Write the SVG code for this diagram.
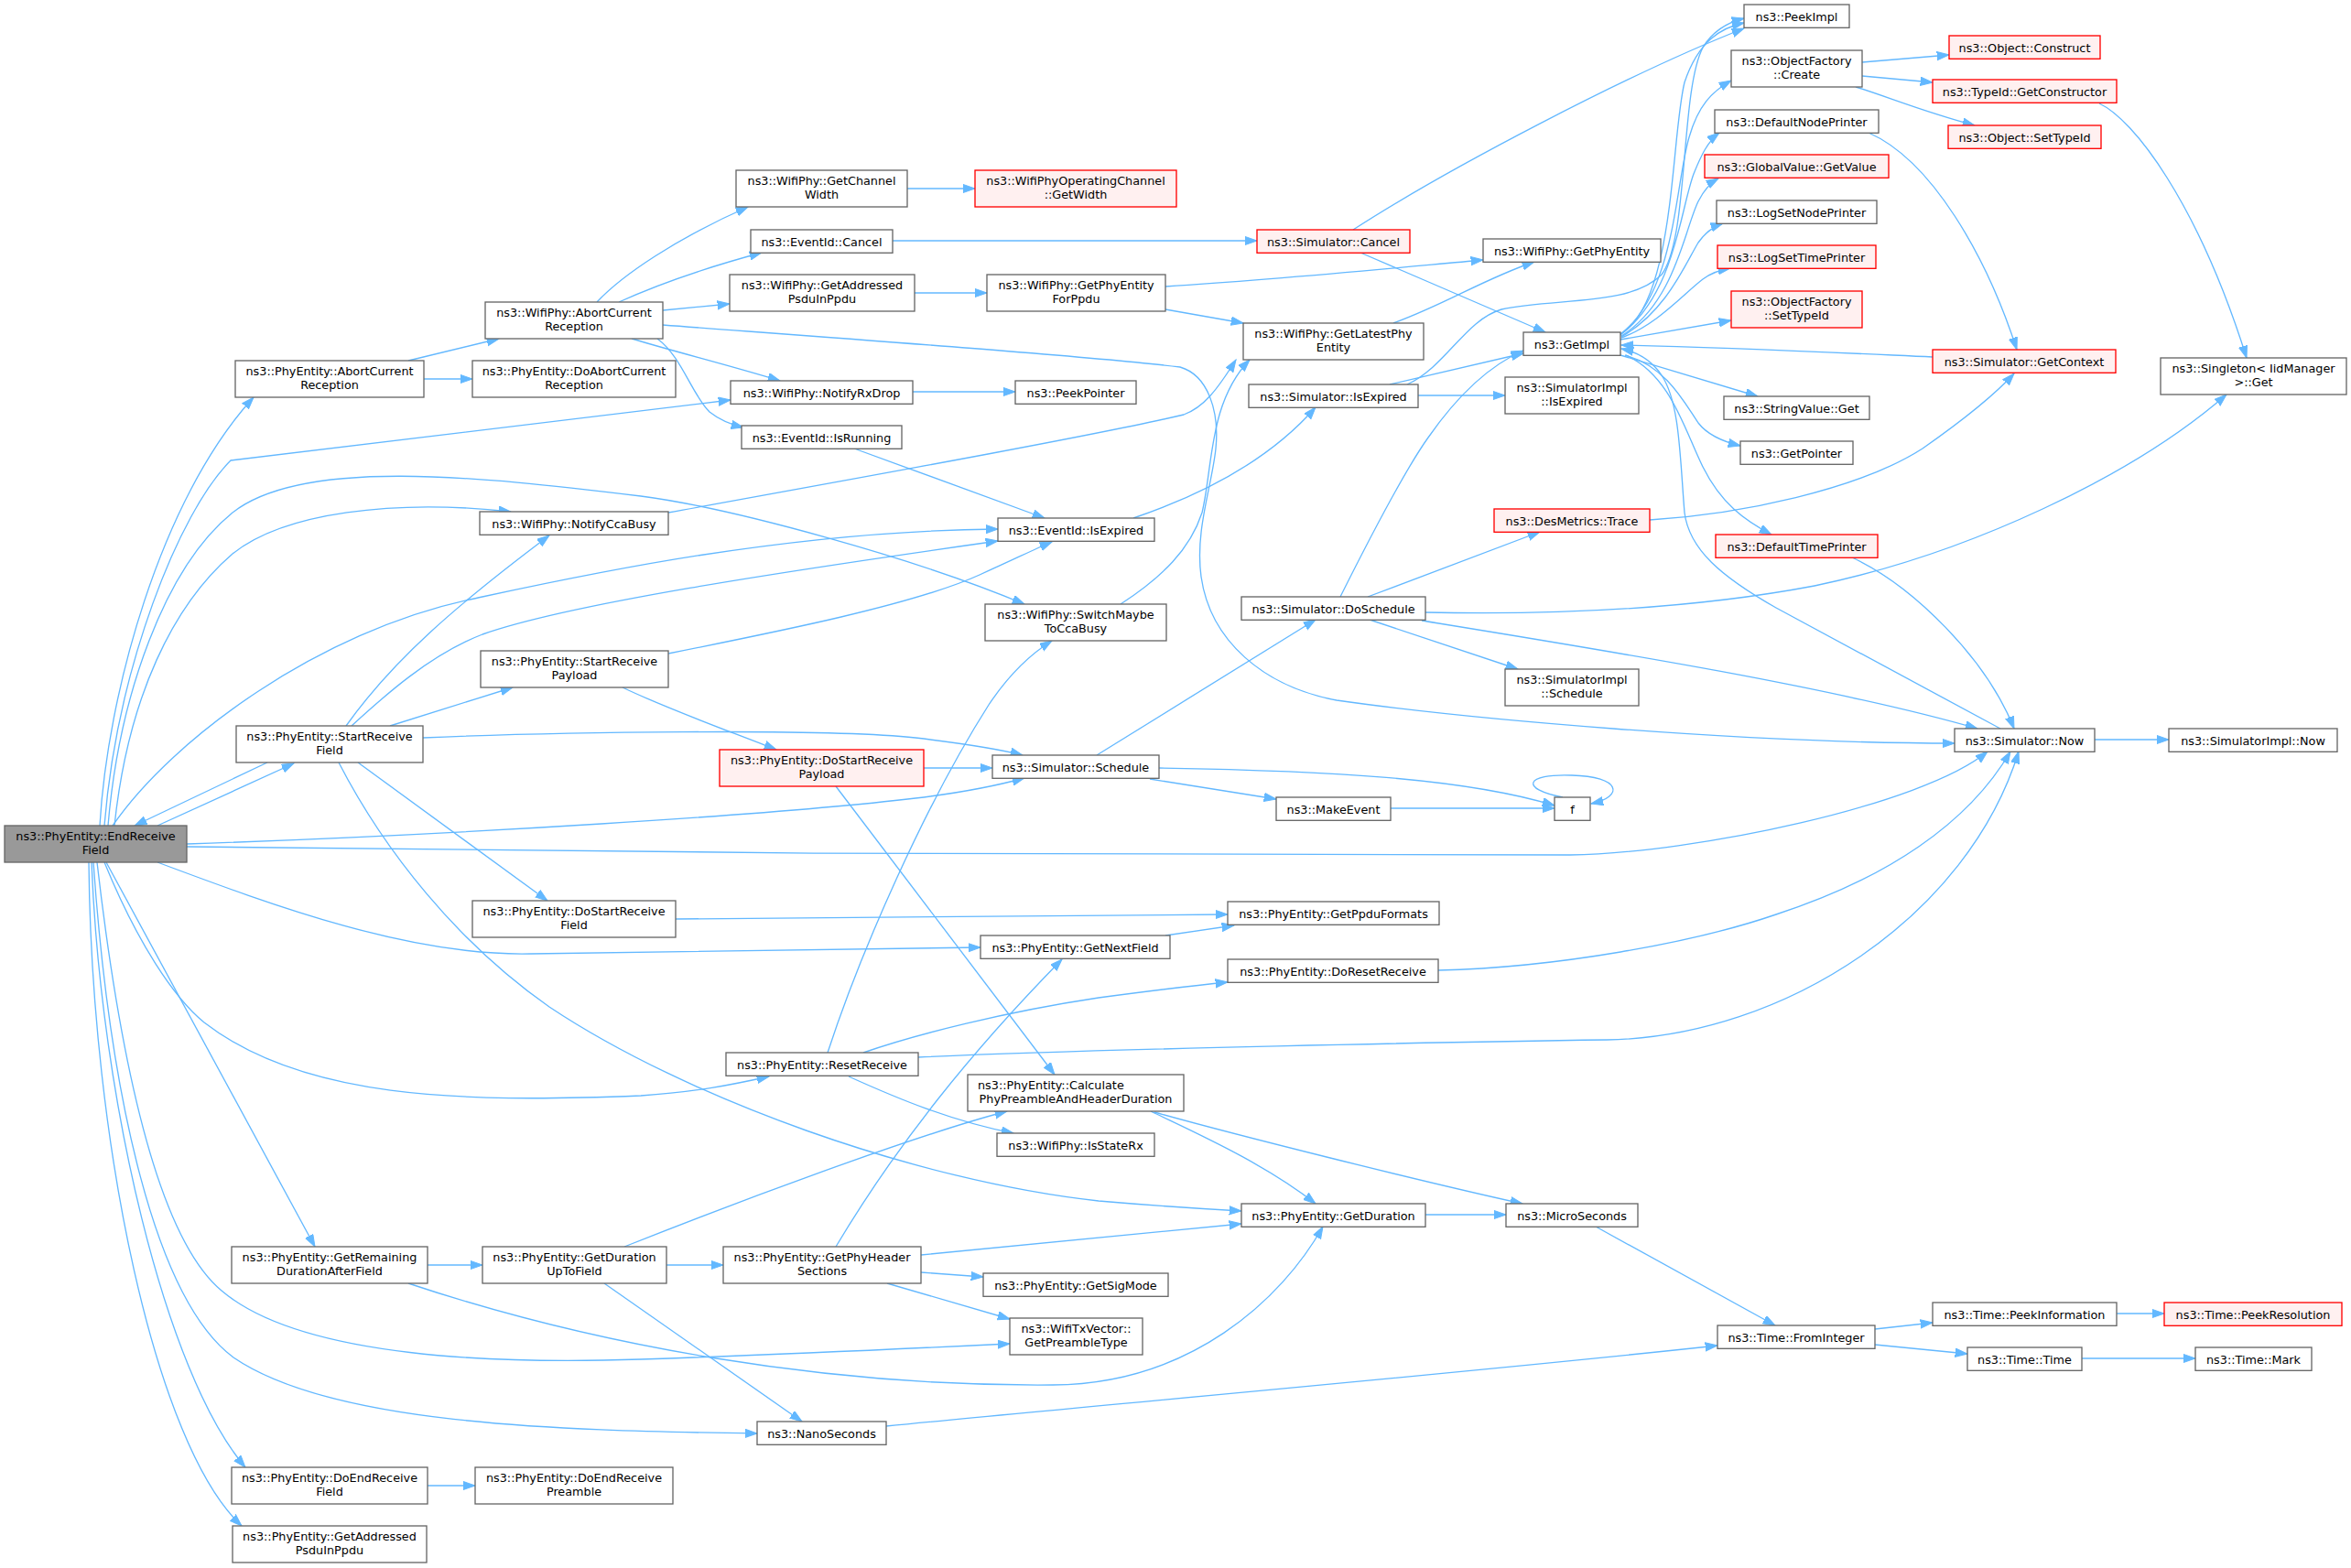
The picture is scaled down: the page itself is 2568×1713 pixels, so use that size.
<svg xmlns="http://www.w3.org/2000/svg" width="2568" height="1713" viewBox="0 0 2568 1713">
<defs>
<style>
.n rect{fill:#ffffff;stroke:#666666;stroke-width:1.33}
.r rect{fill:#fff0f0;stroke:#ff0000;stroke-width:1.33}
.g rect{fill:#999999;stroke:#666666;stroke-width:1.33}
text{font-family:"DejaVu Sans",sans-serif;font-size:12.8px;fill:#000000;text-anchor:middle}
.e path{fill:none;stroke:#63b8ff;stroke-width:1.33;marker-end:url(#a)}
</style>
<marker id="a" markerUnits="userSpaceOnUse" markerWidth="15" markerHeight="11" refX="13.3" refY="5" orient="auto"><path d="M0,0.35L13.3,5L0,9.65z" fill="#63b8ff" stroke="#63b8ff" stroke-width="1"/></marker>
</defs>
<rect x="0" y="0" width="2568" height="1713" fill="#ffffff"/>
<g id="edges" class="e">
<path d="M109,902 C117,760 175,545 277,434"/>
<path d="M114,902 C128,730 195,560 252,503 L798,437"/>
<path d="M118,902 C130,760 180,620 254,560 C330,500 520,520 700,542 C800,555 1000,610 1119,660"/>
<path d="M125,902 C140,760 190,660 254,605 C310,560 430,545 558,559"/>
<path d="M123,902 C190,805 350,690 513,655 C620,632 850,580 1090,578"/>
<path d="M172,902 L321,834"/>
<path d="M292,833 L147,902"/>
<path d="M204,922 C500,912 850,890 1000,872 C1050,866 1090,858 1119,850"/>
<path d="M204,925 C600,932 1500,936 1715,934 C1850,932 2100,880 2171,821"/>
<path d="M172,942 C300,990 450,1045 580,1042 L1071,1035"/>
<path d="M114,942 C150,1030 190,1090 223,1117 C330,1200 500,1205 700,1197 C760,1193 800,1185 840,1176"/>
<path d="M116,942 L344,1362"/>
<path d="M106,942 C130,1150 170,1350 242,1410 C330,1485 550,1490 700,1485 C850,1480 1000,1473 1103,1468"/>
<path d="M102,942 C120,1200 170,1420 255,1483 C360,1555 600,1563 827,1566"/>
<path d="M100,942 C110,1200 180,1500 268,1603"/>
<path d="M97,942 C100,1250 170,1580 264,1667"/>
<path d="M446,394 L545,370"/>
<path d="M463,414 L516,414"/>
<path d="M378,793 C430,720 500,660 600,585"/>
<path d="M384,793 C420,760 470,715 527,693 C620,660 850,625 1090,591"/>
<path d="M426,793 L560,751"/>
<path d="M462,806 C600,800 900,795 1000,806 C1050,812 1090,818 1117,825"/>
<path d="M391,833 L598,984"/>
<path d="M370,833 C420,930 500,1030 600,1100 C750,1200 1000,1290 1200,1312 C1270,1318 1320,1321 1356,1323"/>
<path d="M467,1382 L527,1382"/>
<path d="M446,1402 C650,1470 900,1515 1150,1513 C1300,1512 1400,1420 1445,1340"/>
<path d="M467,1623 L519,1623"/>
<path d="M652,330 C680,300 740,260 817,226"/>
<path d="M676,330 C720,310 780,290 832,276"/>
<path d="M724,339 L797,332"/>
<path d="M724,355 C950,372 1200,390 1289,401 C1320,410 1332,450 1328,490 C1324,530 1305,580 1312,630 C1322,700 1380,750 1460,765 C1600,785 1900,812 2135,812"/>
<path d="M690,370 C740,385 800,400 852,416"/>
<path d="M718,370 C745,390 755,430 775,450 C785,458 795,463 812,467"/>
<path d="M730,560 C950,520 1200,475 1293,453 C1315,445 1330,425 1350,393"/>
<path d="M730,714 C850,690 1000,660 1070,628 C1110,610 1130,600 1149,592"/>
<path d="M680,751 C730,775 800,800 848,819"/>
<path d="M738,1004 C1000,1001 1200,999 1341,999"/>
<path d="M728,1382 L790,1382"/>
<path d="M660,1402 L876,1553"/>
<path d="M682,1362 C800,1315 1000,1240 1100,1214"/>
<path d="M991,206 L1065,206"/>
<path d="M975,263 L1373,263"/>
<path d="M999,320 L1078,320"/>
<path d="M997,428 L1109,428"/>
<path d="M933,490 L1141,566"/>
<path d="M1009,839 L1084,839"/>
<path d="M913,859 L1152,1174"/>
<path d="M904,1150 C940,1040 1010,880 1080,770 C1100,740 1125,715 1149,700"/>
<path d="M943,1150 C1000,1130 1100,1105 1200,1090 C1260,1082 1300,1077 1341,1073"/>
<path d="M1003,1155 C1200,1146 1600,1138 1755,1136 C1950,1133 2150,1000 2205,821"/>
<path d="M927,1176 C980,1200 1040,1225 1107,1238"/>
<path d="M913,1362 C980,1250 1060,1150 1160,1048"/>
<path d="M1006,1371 L1356,1337"/>
<path d="M1006,1390 L1074,1395"/>
<path d="M969,1402 L1103,1441"/>
<path d="M968,1558 C1200,1535 1600,1500 1876,1470"/>
<path d="M1273,313 C1400,305 1500,295 1620,284"/>
<path d="M1273,338 L1358,353"/>
<path d="M1238,566 C1300,545 1380,510 1437,445"/>
<path d="M1224,660 C1270,630 1300,600 1313,560 C1325,510 1320,440 1365,393"/>
<path d="M1198,825 L1437,677"/>
<path d="M1256,851 L1394,873"/>
<path d="M1266,839 C1450,842 1600,850 1698,880"/>
<path d="M1273,1022 L1348,1011"/>
<path d="M1257,1214 C1300,1235 1380,1270 1437,1315"/>
<path d="M1261,1215 C1350,1240 1550,1290 1663,1315"/>
<path d="M1478,251 C1580,185 1780,80 1905,31"/>
<path d="M1486,276 L1688,363"/>
<path d="M1522,353 C1580,332 1620,305 1676,286"/>
<path d="M1518,420 L1664,386"/>
<path d="M1549,432 L1644,432"/>
<path d="M1537,420 C1580,400 1600,350 1640,338 C1700,325 1780,335 1815,300 C1845,260 1835,100 1860,52 C1870,35 1885,25 1905,20"/>
<path d="M1464,652 C1485,610 1530,520 1560,478 C1590,435 1625,400 1664,383"/>
<path d="M1494,652 L1682,581"/>
<path d="M1496,677 L1658,731"/>
<path d="M1553,678 C1750,710 2000,750 2160,796"/>
<path d="M1557,669 C1700,672 1850,665 1982,640 C2150,605 2330,520 2432,431"/>
<path d="M1519,883 L1698,883"/>
<path d="M1707,871 C1660,862 1665,845 1717,847 C1770,848 1775,870 1738,878"/>
<path d="M1571,1060 C1700,1057 1850,1030 1940,999 C2060,960 2150,900 2196,821"/>
<path d="M1557,1327 L1645,1327"/>
<path d="M1743,1340 L1939,1448"/>
<path d="M1770,365 C1830,330 1825,150 1840,90 C1855,45 1880,30 1905,25"/>
<path d="M1770,365 C1830,320 1830,200 1845,150 C1855,115 1870,100 1891,88"/>
<path d="M1770,366 C1830,320 1835,230 1850,190 C1858,170 1865,155 1878,145"/>
<path d="M1771,367 C1830,330 1840,250 1855,220 C1860,210 1868,200 1877,195"/>
<path d="M1771,368 C1820,340 1840,290 1855,265 C1862,255 1870,248 1882,244"/>
<path d="M1771,369 C1810,355 1840,320 1860,305 C1868,299 1878,295 1890,293"/>
<path d="M1770,371 L1891,350"/>
<path d="M1770,388 L1920,433"/>
<path d="M1775,388 C1820,400 1840,440 1855,462 C1865,475 1880,482 1901,487"/>
<path d="M1776,388 C1825,410 1840,470 1860,510 C1880,550 1905,568 1935,584"/>
<path d="M1802,568 C1900,562 2030,535 2100,490 C2150,455 2180,430 2200,408"/>
<path d="M2041,145 C2110,175 2170,280 2203,382"/>
<path d="M2023,609 C2090,640 2170,720 2200,796"/>
<path d="M2111,390 C2000,385 1900,380 1771,377"/>
<path d="M2185,796 L1940,664 C1880,630 1845,600 1840,560 C1835,500 1835,440 1815,410 C1805,395 1790,385 1771,381"/>
<path d="M2288,808 L2369,808"/>
<path d="M2034,68 L2129,60"/>
<path d="M2034,83 L2111,90"/>
<path d="M2027,95 C2060,105 2100,122 2157,137"/>
<path d="M2293,113 C2330,130 2400,220 2454,391"/>
<path d="M2048,1452 L2111,1445"/>
<path d="M2048,1469 L2149,1479"/>
<path d="M2312,1435 L2364,1435"/>
<path d="M2274,1484 L2398,1484"/>
</g>
<g id="n0" class="g"><rect x="5" y="902" width="199" height="40"/><text x="104.5" y="918.2">ns3::PhyEntity::EndReceive</text><text x="104.5" y="933">Field</text></g>
<g id="n1" class="n"><rect x="257" y="394" width="206" height="40"/><text x="360" y="410.2">ns3::PhyEntity::AbortCurrent</text><text x="360" y="425">Reception</text></g>
<g id="n2" class="n"><rect x="258" y="793" width="204" height="40"/><text x="360" y="809.2">ns3::PhyEntity::StartReceive</text><text x="360" y="824">Field</text></g>
<g id="n3" class="n"><rect x="253" y="1362" width="214" height="40"/><text x="360" y="1378.2">ns3::PhyEntity::GetRemaining</text><text x="360" y="1393">DurationAfterField</text></g>
<g id="n4" class="n"><rect x="253" y="1603" width="214" height="40"/><text x="360" y="1619.2">ns3::PhyEntity::DoEndReceive</text><text x="360" y="1634">Field</text></g>
<g id="n5" class="n"><rect x="254" y="1667" width="212" height="40"/><text x="360" y="1683.2">ns3::PhyEntity::GetAddressed</text><text x="360" y="1698">PsduInPpdu</text></g>
<g id="n6" class="n"><rect x="530" y="330" width="194" height="40"/><text x="627" y="346.2">ns3::WifiPhy::AbortCurrent</text><text x="627" y="361">Reception</text></g>
<g id="n7" class="n"><rect x="516" y="394" width="222" height="40"/><text x="627" y="410.2">ns3::PhyEntity::DoAbortCurrent</text><text x="627" y="425">Reception</text></g>
<g id="n8" class="n"><rect x="524" y="559" width="206" height="25.3"/><text x="627" y="576.5">ns3::WifiPhy::NotifyCcaBusy</text></g>
<g id="n9" class="n"><rect x="525" y="711" width="205" height="40"/><text x="627.5" y="727.2">ns3::PhyEntity::StartReceive</text><text x="627.5" y="742">Payload</text></g>
<g id="n10" class="n"><rect x="516" y="984" width="222" height="40"/><text x="627" y="1000.2">ns3::PhyEntity::DoStartReceive</text><text x="627" y="1015">Field</text></g>
<g id="n11" class="n"><rect x="527" y="1362" width="201" height="40"/><text x="627.5" y="1378.2">ns3::PhyEntity::GetDuration</text><text x="627.5" y="1393">UpToField</text></g>
<g id="n12" class="n"><rect x="519" y="1603" width="216" height="40"/><text x="627" y="1619.2">ns3::PhyEntity::DoEndReceive</text><text x="627" y="1634">Preamble</text></g>
<g id="n13" class="n"><rect x="804" y="186" width="187" height="40"/><text x="897.5" y="202.2">ns3::WifiPhy::GetChannel</text><text x="897.5" y="217">Width</text></g>
<g id="n14" class="n"><rect x="820" y="251" width="155" height="25.3"/><text x="897.5" y="268.5">ns3::EventId::Cancel</text></g>
<g id="n15" class="n"><rect x="797" y="300" width="202" height="40"/><text x="898" y="316.2">ns3::WifiPhy::GetAddressed</text><text x="898" y="331">PsduInPpdu</text></g>
<g id="n16" class="n"><rect x="798" y="416" width="199" height="25.3"/><text x="897.5" y="433.5">ns3::WifiPhy::NotifyRxDrop</text></g>
<g id="n17" class="n"><rect x="810" y="465" width="175" height="25.3"/><text x="897.5" y="482.5">ns3::EventId::IsRunning</text></g>
<g id="n18" class="r"><rect x="786" y="819" width="223" height="40"/><text x="897.5" y="835.2">ns3::PhyEntity::DoStartReceive</text><text x="897.5" y="850">Payload</text></g>
<g id="n19" class="n"><rect x="793" y="1150" width="210" height="25.3"/><text x="898" y="1167.5">ns3::PhyEntity::ResetReceive</text></g>
<g id="n20" class="n"><rect x="790" y="1362" width="216" height="40"/><text x="898" y="1378.2">ns3::PhyEntity::GetPhyHeader</text><text x="898" y="1393">Sections</text></g>
<g id="n21" class="n"><rect x="827" y="1553" width="141" height="25.3"/><text x="897.5" y="1570.5">ns3::NanoSeconds</text></g>
<g id="n22" class="r"><rect x="1065" y="186" width="220" height="40"/><text x="1175" y="202.2">ns3::WifiPhyOperatingChannel</text><text x="1175" y="217">::GetWidth</text></g>
<g id="n23" class="n"><rect x="1078" y="300" width="195" height="40"/><text x="1175.5" y="316.2">ns3::WifiPhy::GetPhyEntity</text><text x="1175.5" y="331">ForPpdu</text></g>
<g id="n24" class="n"><rect x="1109" y="416" width="132" height="25.3"/><text x="1175" y="433.5">ns3::PeekPointer</text></g>
<g id="n25" class="n"><rect x="1090" y="566" width="171" height="25.3"/><text x="1175.5" y="583.5">ns3::EventId::IsExpired</text></g>
<g id="n26" class="n"><rect x="1076" y="660" width="198" height="40"/><text x="1175" y="676.2">ns3::WifiPhy::SwitchMaybe</text><text x="1175" y="691">ToCcaBusy</text></g>
<g id="n27" class="n"><rect x="1084" y="825" width="182" height="25.3"/><text x="1175" y="842.5">ns3::Simulator::Schedule</text></g>
<g id="n28" class="n"><rect x="1071" y="1022" width="207" height="25.3"/><text x="1174.5" y="1039.5">ns3::PhyEntity::GetNextField</text></g>
<g id="n29" class="n"><rect x="1057" y="1174" width="236" height="40"/><text x="1068" y="1190.2" style="text-anchor:start">ns3::PhyEntity::Calculate</text><text x="1175" y="1205">PhyPreambleAndHeaderDuration</text></g>
<g id="n30" class="n"><rect x="1089" y="1238" width="172" height="25.3"/><text x="1175" y="1255.5">ns3::WifiPhy::IsStateRx</text></g>
<g id="n31" class="n"><rect x="1074" y="1391" width="202" height="25.3"/><text x="1175" y="1408.5">ns3::PhyEntity::GetSigMode</text></g>
<g id="n32" class="n"><rect x="1103" y="1440" width="145" height="40"/><text x="1175.5" y="1456.2">ns3::WifiTxVector::</text><text x="1175.5" y="1471">GetPreambleType</text></g>
<g id="n33" class="r"><rect x="1373" y="251" width="167" height="25.3"/><text x="1456.5" y="268.5">ns3::Simulator::Cancel</text></g>
<g id="n34" class="n"><rect x="1358" y="353" width="197" height="40"/><text x="1456.5" y="369.2">ns3::WifiPhy::GetLatestPhy</text><text x="1456.5" y="384">Entity</text></g>
<g id="n35" class="n"><rect x="1364" y="420" width="185" height="25.3"/><text x="1456.5" y="437.5">ns3::Simulator::IsExpired</text></g>
<g id="n36" class="n"><rect x="1356" y="652" width="201" height="25.3"/><text x="1456.5" y="669.5">ns3::Simulator::DoSchedule</text></g>
<g id="n37" class="n"><rect x="1394" y="871" width="125" height="25.3"/><text x="1456.5" y="888.5">ns3::MakeEvent</text></g>
<g id="n38" class="n"><rect x="1341" y="985" width="231" height="25.3"/><text x="1456.5" y="1002.5">ns3::PhyEntity::GetPpduFormats</text></g>
<g id="n39" class="n"><rect x="1341" y="1048" width="230" height="25.3"/><text x="1456" y="1065.5">ns3::PhyEntity::DoResetReceive</text></g>
<g id="n40" class="n"><rect x="1356" y="1315" width="201" height="25.3"/><text x="1456.5" y="1332.5">ns3::PhyEntity::GetDuration</text></g>
<g id="n41" class="n"><rect x="1620" y="261" width="194" height="25.3"/><text x="1717" y="278.5">ns3::WifiPhy::GetPhyEntity</text></g>
<g id="n42" class="n"><rect x="1664" y="363" width="106" height="25.3"/><text x="1717" y="380.5">ns3::GetImpl</text></g>
<g id="n43" class="n"><rect x="1644" y="412" width="146" height="40"/><text x="1717" y="428.2">ns3::SimulatorImpl</text><text x="1717" y="443">::IsExpired</text></g>
<g id="n44" class="r"><rect x="1632" y="556" width="170" height="25.3"/><text x="1717" y="573.5">ns3::DesMetrics::Trace</text></g>
<g id="n45" class="n"><rect x="1644" y="731" width="146" height="40"/><text x="1717" y="747.2">ns3::SimulatorImpl</text><text x="1717" y="762">::Schedule</text></g>
<g id="n46" class="n"><rect x="1698" y="871" width="39" height="25.3"/><text x="1717.5" y="888.5">f</text></g>
<g id="n47" class="n"><rect x="1645" y="1315" width="144" height="25.3"/><text x="1717" y="1332.5">ns3::MicroSeconds</text></g>
<g id="n48" class="n"><rect x="1905" y="5" width="115" height="25.3"/><text x="1962.5" y="22.5">ns3::PeekImpl</text></g>
<g id="n49" class="n"><rect x="1891" y="55" width="143" height="40"/><text x="1962.5" y="71.2">ns3::ObjectFactory</text><text x="1962.5" y="86">::Create</text></g>
<g id="n50" class="n"><rect x="1873" y="120" width="179" height="25.3"/><text x="1962.5" y="137.5">ns3::DefaultNodePrinter</text></g>
<g id="n51" class="r"><rect x="1862" y="169" width="201" height="25.3"/><text x="1962.5" y="186.5">ns3::GlobalValue::GetValue</text></g>
<g id="n52" class="n"><rect x="1875" y="219" width="175" height="25.3"/><text x="1962.5" y="236.5">ns3::LogSetNodePrinter</text></g>
<g id="n53" class="r"><rect x="1876" y="268" width="173" height="25.3"/><text x="1962.5" y="285.5">ns3::LogSetTimePrinter</text></g>
<g id="n54" class="r"><rect x="1891" y="318" width="143" height="40"/><text x="1962.5" y="334.2">ns3::ObjectFactory</text><text x="1962.5" y="349">::SetTypeId</text></g>
<g id="n55" class="n"><rect x="1883" y="433" width="159" height="25.3"/><text x="1962.5" y="450.5">ns3::StringValue::Get</text></g>
<g id="n56" class="n"><rect x="1901" y="482" width="123" height="25.3"/><text x="1962.5" y="499.5">ns3::GetPointer</text></g>
<g id="n57" class="r"><rect x="1874" y="584" width="177" height="25.3"/><text x="1962.5" y="601.5">ns3::DefaultTimePrinter</text></g>
<g id="n58" class="n"><rect x="1876" y="1448" width="172" height="25.3"/><text x="1962" y="1465.5">ns3::Time::FromInteger</text></g>
<g id="n59" class="r"><rect x="2129" y="39" width="165" height="25.3"/><text x="2211.5" y="56.5">ns3::Object::Construct</text></g>
<g id="n60" class="r"><rect x="2111" y="87" width="201" height="25.3"/><text x="2211.5" y="104.5">ns3::TypeId::GetConstructor</text></g>
<g id="n61" class="r"><rect x="2128" y="137" width="167" height="25.3"/><text x="2211.5" y="154.5">ns3::Object::SetTypeId</text></g>
<g id="n62" class="r"><rect x="2111" y="382" width="200" height="25.3"/><text x="2211" y="399.5">ns3::Simulator::GetContext</text></g>
<g id="n63" class="n"><rect x="2135" y="796" width="153" height="25.3"/><text x="2211.5" y="813.5">ns3::Simulator::Now</text></g>
<g id="n64" class="n"><rect x="2111" y="1423" width="201" height="25.3"/><text x="2211.5" y="1440.5">ns3::Time::PeekInformation</text></g>
<g id="n65" class="n"><rect x="2149" y="1472" width="125" height="25.3"/><text x="2211.5" y="1489.5">ns3::Time::Time</text></g>
<g id="n66" class="n"><rect x="2360" y="391" width="203" height="40"/><text x="2461.5" y="407.2">ns3::Singleton&lt; IidManager</text><text x="2461.5" y="422">&gt;::Get</text></g>
<g id="n67" class="n"><rect x="2369" y="796" width="184" height="25.3"/><text x="2461" y="813.5">ns3::SimulatorImpl::Now</text></g>
<g id="n68" class="r"><rect x="2364" y="1423" width="194" height="25.3"/><text x="2461" y="1440.5">ns3::Time::PeekResolution</text></g>
<g id="n69" class="n"><rect x="2398" y="1472" width="127" height="25.3"/><text x="2461.5" y="1489.5">ns3::Time::Mark</text></g>
</svg>
